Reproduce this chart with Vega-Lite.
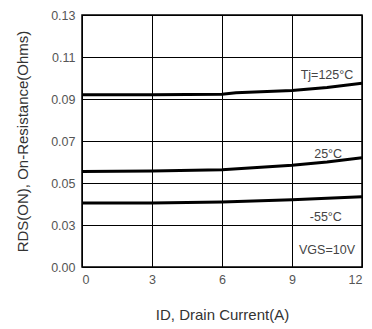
{
  "$schema": "https://vega.github.io/schema/vega-lite/v6.json",
  "width": 280,
  "height": 252,
  "autosize": "none",
  "padding": {"left": 82, "top": 15, "right": 10, "bottom": 62},
  "background": "white",
  "config": {
    "font": "Liberation Sans",
    "view": {"stroke": "black", "strokeWidth": 1.5},
    "axis": {
      "grid": true, "gridColor": "black", "gridWidth": 1, "gridOpacity": 1,
      "domain": false, "ticks": false,
      "labelFont": "Liberation Sans", "labelFontSize": 12.5, "labelColor": "#555",
      "titleFont": "Liberation Sans", "titleFontSize": 15, "titleFontWeight": "normal", "titleColor": "#333"
    }
  },
  "datasets": {
    "curves": [
      {"temp": "125", "I": 0, "R": 0.0920},
      {"temp": "125", "I": 3, "R": 0.0920},
      {"temp": "125", "I": 6, "R": 0.0923},
      {"temp": "125", "I": 6.6, "R": 0.0930},
      {"temp": "125", "I": 9, "R": 0.0940},
      {"temp": "125", "I": 10.5, "R": 0.0955},
      {"temp": "125", "I": 12, "R": 0.0975},
      {"temp": "25", "I": 0, "R": 0.0555},
      {"temp": "25", "I": 3, "R": 0.0557},
      {"temp": "25", "I": 6, "R": 0.0563},
      {"temp": "25", "I": 9, "R": 0.0585},
      {"temp": "25", "I": 10.5, "R": 0.0600},
      {"temp": "25", "I": 12, "R": 0.0620},
      {"temp": "-55", "I": 0, "R": 0.0405},
      {"temp": "-55", "I": 3, "R": 0.0405},
      {"temp": "-55", "I": 6, "R": 0.0410},
      {"temp": "-55", "I": 9, "R": 0.0420},
      {"temp": "-55", "I": 12, "R": 0.0435}
    ],
    "notes": [
      {"text": "Tj=125°C", "I": 10.5, "R": 0.1014},
      {"text": "25°C", "I": 10.55, "R": 0.0638},
      {"text": "-55°C", "I": 10.45, "R": 0.0338},
      {"text": "VGS=10V", "I": 10.5, "R": 0.0181}
    ]
  },
  "layer": [
    {
      "data": {"name": "curves"},
      "mark": {"type": "line", "color": "black", "strokeWidth": 3, "clip": true},
      "encoding": {
        "x": {"field": "I", "type": "quantitative",
              "scale": {"domain": [0, 12], "nice": false},
              "axis": {"values": [0, 3, 6, 9, 12], "title": "ID, Drain Current(A)", "labelPadding": 6, "titlePadding": 22}},
        "y": {"field": "R", "type": "quantitative",
              "scale": {"domain": [0.01, 0.13], "nice": false, "zero": false},
              "axis": {"values": [0.01, 0.03, 0.05, 0.07, 0.09, 0.11, 0.13],
                       "labelExpr": "datum.value < 0.02 ? '0.00' : format(datum.value, '.2f')",
                       "title": "RDS(ON), On-Resistance(Ohms)", "labelPadding": 7, "titlePadding": 20}},
        "detail": {"field": "temp"}
      }
    },
    {
      "data": {"name": "notes"},
      "mark": {"type": "text", "align": "center", "baseline": "middle", "font": "Liberation Sans", "fontSize": 12.5, "color": "#444"},
      "encoding": {
        "x": {"field": "I", "type": "quantitative"},
        "y": {"field": "R", "type": "quantitative"},
        "text": {"field": "text"}
      }
    }
  ]
}
